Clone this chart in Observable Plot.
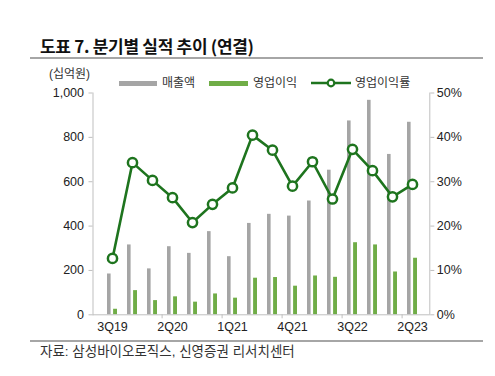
<!DOCTYPE html>
<html><head><meta charset="utf-8">
<script src="https://cdn.jsdelivr.net/npm/d3@7"></script>
<script src="https://cdn.jsdelivr.net/npm/@observablehq/plot@0.6"></script>
<style>
body{margin:0;background:#fff;}
#wrap{position:relative;width:495px;height:376px;overflow:hidden;font-family:"Liberation Sans","Noto Sans CJK KR",sans-serif;color:#222;}
#title{position:absolute;left:40px;top:35px;font-family:"Noto Sans CJK KR",sans-serif;font-weight:700;font-size:17px;line-height:21px;color:#111;letter-spacing:-0.3px;white-space:nowrap;}
.hr{position:absolute;left:30px;width:453px;background:#a6a6a6;}
#unit{position:absolute;left:49px;top:66px;font-size:12px;line-height:16px;color:#333;white-space:nowrap;}
#chart{position:absolute;left:0;top:60px;}
#source{position:absolute;left:40px;top:343px;font-size:13.5px;line-height:18px;color:#333;white-space:nowrap;}
.lg{position:absolute;font-size:12px;line-height:16px;color:#333;white-space:nowrap;}
.sw{position:absolute;}
</style></head><body>
<div id="wrap">
  <div id="title">도표 7. 분기별 실적 추이 (연결)</div>
  <div class="hr" style="top:57px;height:2px;"></div>
  <div id="unit">(십억원)</div>
  <div id="chart"></div>
  <div class="hr" style="top:340px;height:1.5px;"></div>
  <div id="source">자료: 삼성바이오로직스, 신영증권 리서치센터</div>
</div>
<script>
const quarters = ["3Q19","4Q19","1Q20","2Q20","3Q20","4Q20","1Q21","2Q21","3Q21","4Q21","1Q22","2Q22","3Q22","4Q22","1Q23","2Q23"];
const revenue = [184, 315, 207, 307, 277, 375, 262, 412, 453, 445, 513, 652, 874, 967, 723, 868];
const opProfit = [25, 109, 64, 81, 57, 94, 75, 165, 168, 129, 175, 169, 325, 315, 193, 255];
const opMargin = [12.7, 34.3, 30.3, 26.4, 20.8, 24.9, 28.6, 40.5, 37.1, 29.0, 34.5, 26.1, 37.3, 32.5, 26.6, 29.4];
const seriesNames = ["매출액", "영업이익", "영업이익률"];
const xLabels = ["3Q19","2Q20","1Q21","4Q21","3Q22","2Q23"];
const leftTicks = [0, 200, 400, 600, 800, 1000];
const rightTicks = [0, 10, 20, 30, 40, 50];

const GREY = "#a5a5a5", GREEN = "#70ad47", DARK = "#1e741e", AXIS = "#bfbfbf";
const data = quarters.map((q, i) => ({q, rev: revenue[i], op: opProfit[i], m: opMargin[i]}));
const pctToLeft = 1000 / 50;

const W = 495, H = 285, mL = 95, mR = 67;
const bw = (W - mL - mR) / quarters.length;

const chart = Plot.plot({
  width: W, height: H,
  marginTop: 32.5, marginBottom: 30.7, marginLeft: mL, marginRight: mR,
  x: {type: "band", domain: quarters, padding: 0, axis: null, label: null},
  y: {domain: [0, 1000], axis: null, label: null},
  style: {fontFamily: '"Liberation Sans","Noto Sans CJK KR",sans-serif', fontSize: "12px", color: "#222", background: "transparent", overflow: "visible"},
  marks: [
    Plot.barY(data, {x: "q", y: "rev", fill: GREY, insetLeft: 5, insetRight: 11.4}),
    Plot.barY(data, {x: "q", y: "op", fill: GREEN, insetLeft: 11.1, insetRight: 5}),
    Plot.frame({anchor: "left", stroke: AXIS, dx: -2.5}),
    Plot.frame({anchor: "right", stroke: AXIS, dx: 1.3}),
    Plot.ruleY([0], {stroke: AXIS, insetLeft: -2.5, insetRight: -1.3}),
    Plot.axisY({anchor: "left", ticks: leftTicks, tickFormat: d3.format(","), tickSize: 4, tickPadding: 5, dx: -2.5, stroke: AXIS, fill: "#222", fontSize: 12.5, label: null}),
    Plot.axisY({anchor: "right", ticks: rightTicks.map(t => t * pctToLeft), tickFormat: d => (d / pctToLeft) + "%", tickSize: 4, tickPadding: 3, dx: 1.3, stroke: AXIS, fill: "#222", fontSize: 12.5, label: null}),
    Plot.axisX({ticks: xLabels.slice(1), tickSize: 4, text: null, dx: -bw / 2, stroke: AXIS, label: null}),
    Plot.axisX({ticks: xLabels, tickSize: 0, tickPadding: 7, fill: "#222", fontSize: 12.5, label: null}),
    Plot.line(data, {x: "q", y: d => d.m * pctToLeft, stroke: DARK, strokeWidth: 2.6}),
    Plot.dot(data, {x: "q", y: d => d.m * pctToLeft, r: 4.6, fill: "white", stroke: DARK, strokeWidth: 2.5})
  ]
});
document.getElementById("chart").appendChild(chart);

// legend
const wrap = document.getElementById("wrap");
const legendItems = [
  {name: seriesNames[0], kind: "bar", color: GREY, sx: 119, sw: 38, tx: 162},
  {name: seriesNames[1], kind: "bar", color: GREEN, sx: 209, sw: 39, tx: 253},
  {name: seriesNames[2], kind: "line", color: DARK, sx: 311, sw: 40, tx: 355}
];
const cy = 83;
for (const it of legendItems) {
  if (it.kind === "bar") {
    const s = document.createElement("div");
    s.className = "sw";
    s.style.cssText = `left:${it.sx}px;top:${cy - 2.5}px;width:${it.sw}px;height:5px;background:${it.color};`;
    wrap.appendChild(s);
  } else {
    const ns = "http://www.w3.org/2000/svg";
    const svg = document.createElementNS(ns, "svg");
    svg.setAttribute("width", it.sw); svg.setAttribute("height", 14);
    svg.style.cssText = `position:absolute;left:${it.sx}px;top:${cy - 7}px;`;
    const l = document.createElementNS(ns, "line");
    l.setAttribute("x1", 0); l.setAttribute("x2", it.sw); l.setAttribute("y1", 7); l.setAttribute("y2", 7);
    l.setAttribute("stroke", it.color); l.setAttribute("stroke-width", 2.6);
    svg.appendChild(l);
    const c = document.createElementNS(ns, "circle");
    c.setAttribute("cx", it.sw / 2); c.setAttribute("cy", 7); c.setAttribute("r", 3.3);
    c.setAttribute("fill", "white"); c.setAttribute("stroke", it.color); c.setAttribute("stroke-width", 2.2);
    svg.appendChild(c);
    wrap.appendChild(svg);
  }
  const t = document.createElement("div");
  t.className = "lg";
  t.textContent = it.name;
  t.style.left = it.tx + "px";
  t.style.top = (cy - 8.5) + "px";
  wrap.appendChild(t);
}
</script>
</body></html>
